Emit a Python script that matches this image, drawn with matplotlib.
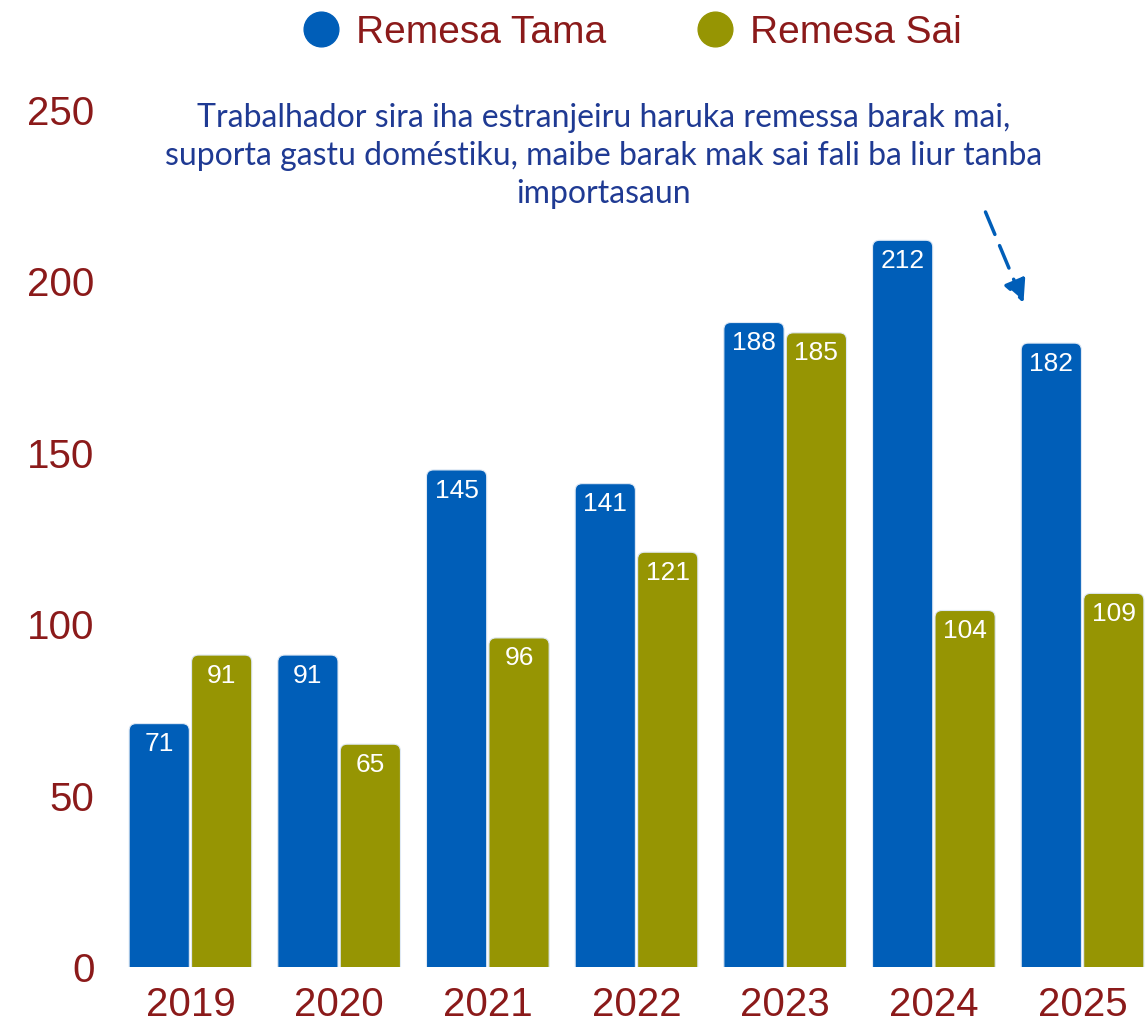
import matplotlib
matplotlib.use("Agg")
import matplotlib.pyplot as plt
from matplotlib.patches import FancyBboxPatch
from matplotlib.lines import Line2D
import numpy as np

years = ["2019", "2020", "2021", "2022", "2023", "2024", "2025"]
remesa_tama = [71, 91, 145, 141, 188, 212, 182]
remesa_sai = [91, 65, 96, 121, 185, 104, 109]
series_names = ["Remesa Tama", "Remesa Sai"]
note = ("Trabalhador sira iha estranjeiru haruka remessa barak mai,\n"
        "suporta gastu doméstiku, maibe barak mak sai fali ba liur tanba\n"
        "importasaun")

blue = "#005EB8"
olive = "#969503"
red = "#8B1A1A"
navy = "#1F3A93"

plt.rcParams["font.family"] = ["Liberation Sans", "DejaVu Sans"]

fig = plt.figure(figsize=(11.45, 10.23), dpi=100)
ax = fig.add_axes([128 / 1145, 56 / 1023, 1 - 128 / 1145, 857 / 1023])

x = np.arange(len(years))
w = 0.405
off = 0.21
bars1 = ax.bar(x - off, remesa_tama, w, color=blue)
bars2 = ax.bar(x + off, remesa_sai, w, color=olive)

# swap plain bars for ones with rounded tops
px_x = 1017 / 6.84
px_y = 857 / 250
r = 7 / px_x
aspect = (7 / px_y) / r
for bars, col in [(bars1, blue), (bars2, olive)]:
    for b in bars:
        b.set_visible(False)
        p = FancyBboxPatch((b.get_x(), -5), b.get_width(), b.get_height() + 5,
                           boxstyle=f"round,pad=0,rounding_size={r}",
                           mutation_aspect=aspect, facecolor=col,
                           edgecolor="#dfe9f5", linewidth=0.8)
        ax.add_patch(p)
        ax.text(b.get_x() + b.get_width() / 2, b.get_height() - 6,
                str(int(b.get_height())), ha="center", va="center",
                color="white", fontsize=19)

ax.set_xlim(-0.42, 6.42)
ax.set_ylim(0, 250)
ax.set_xticks(x)
ax.set_xticklabels(years)
ax.set_yticks([0, 50, 100, 150, 200, 250])
ax.tick_params(length=0, labelsize=29, labelcolor=red)
ax.tick_params(axis="y", pad=24)
ax.tick_params(axis="x", pad=14)
for s in ax.spines.values():
    s.set_visible(False)

ax.text(2.78, 236.5, note, ha="center", va="center", color=navy,
        fontsize=23, family=["Lato", "DejaVu Sans"], linespacing=1.33,
        clip_on=False)
ax.annotate("", xy=(5.61, 193), xytext=(5.34, 221),
            arrowprops=dict(arrowstyle="-|>", color=blue, lw=2.5,
                            linestyle=(0, (7, 3.5)), mutation_scale=34))

handles = [Line2D([], [], marker="o", linestyle="", markersize=25,
                  markerfacecolor=c, markeredgecolor=c) for c in (blue, olive)]
fig.legend(handles, series_names, loc="center", bbox_to_anchor=(630 / 1145, 1 - 33 / 1023),
           ncol=2, frameon=False, fontsize=28, labelcolor=red,
           handletextpad=0.3, columnspacing=2.2, handlelength=1.2)

fig.savefig("out.png", dpi=100)
